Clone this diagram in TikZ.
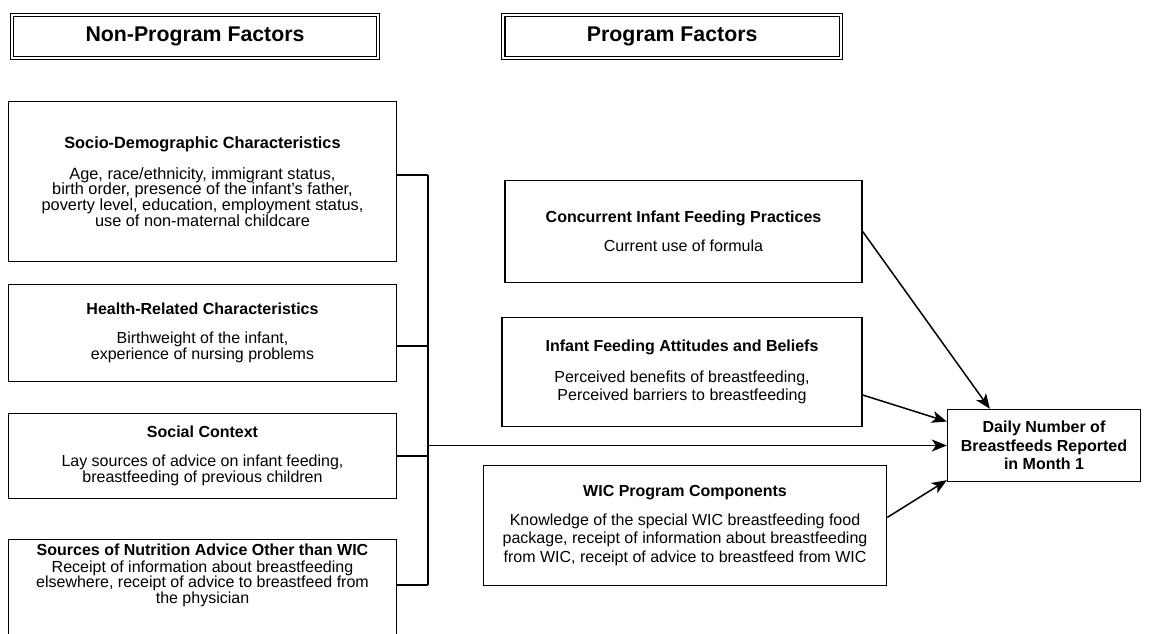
\documentclass[tikz,border=0pt]{standalone}
\usepackage{fontspec}
\setmainfont{Liberation Sans}
\usetikzlibrary{positioning, arrows.meta}

\tikzset{
  factor/.style={draw, line width=1.3pt, align=center, inner sep=0pt,
    font=\fontsize{16}{16.5}\selectfont},
  program/.style={factor, font=\fontsize{16}{18.4}\selectfont},
  header/.style={draw, double, line width=1.2pt, double distance=2pt,
    inner sep=0pt, minimum height=42.6pt, font=\fontsize{21.3}{25}\selectfont\bfseries},
  link/.style={line width=1.5pt},
}

\begin{document}
\begin{tikzpicture}[x=1pt, y=-1pt, >={Stealth[length=15pt, width=12pt, inset=4pt]}]
  \useasboundingbox (0,0) rectangle (1150,633);
  \clip (0,0) rectangle (1150,633);

  % column headers
  \node (nonprog) [header, minimum width=365.6pt] at (195,36.5) {Non-Program Factors};
  \node (prog) [header, minimum width=337.6pt, right=124.4pt of nonprog] {Program Factors};

  % non-program factors
  \node (socio) [factor, minimum width=388pt, minimum height=160pt,
    font=\fontsize{16.3}{15.7}\selectfont] at (202.5,181.5)
    {\textbf{Socio-Demographic Characteristics}\\[15pt]
     Age, race/ethnicity, immigrant status,\\
     birth order, presence of the infant’s father,\\
     poverty level, education, employment status,\\
     use of non-maternal childcare};
  \node (health) [factor, minimum width=388pt, minimum height=97pt] at (202.5,333)
    {\textbf{Health-Related Characteristics}\\[12pt]
     Birthweight of the infant,\\
     experience of nursing problems};
  \node (social) [factor, minimum width=388pt, minimum height=85pt] at (202.5,456)
    {\textbf{Social Context}\\[12pt]
     Lay sources of advice on infant feeding,\\
     breastfeeding of previous children};
  \node (sources) [factor, minimum width=388pt, anchor=north, inner ysep=5pt,
    font=\fontsize{16}{15.5}\selectfont] at (202.5,538.6)
    {\textbf{Sources of Nutrition Advice Other than WIC}\\[1pt]
     Receipt of information about breastfeeding\\
     elsewhere, receipt of advice to breastfeed from\\
     the physician\rule[-60pt]{0pt}{0pt}};

  % program factors
  \node (concurrent) [program, minimum width=357pt, minimum height=102pt] at (683.5,231.5)
    {\textbf{Concurrent Infant Feeding Practices}\\[11pt]
     Current use of formula};
  \node (attitudes) [program, minimum width=360pt, minimum height=109pt] at (682,372)
    {\textbf{Infant Feeding Attitudes and Beliefs}\\[12pt]
     Perceived benefits of breastfeeding,\\
     Perceived barriers to breastfeeding};
  \node (wic) [program, minimum width=403pt, minimum height=120pt] at (685,525.5)
    {\textbf{WIC Program Components}\\[10pt]
     Knowledge of the special WIC breastfeeding food\\
     package, receipt of information about breastfeeding\\
     from WIC, receipt of advice to breastfeed from WIC};

  % outcome
  \node (daily) [factor, minimum width=193pt, minimum height=72pt,
    font=\fontsize{16}{18.7}\selectfont\bfseries] at (1044,445.5)
    {Daily Number of\\ Breastfeeds Reported\\ in Month 1};

  % bus joining the non-program factors
  \coordinate (j1) at (428,175);
  \coordinate (j2) at (428,346);
  \coordinate (j3) at (428,456);
  \coordinate (j4) at (428,585);
  \draw[link] (socio.east |- j1) -- (j1);
  \draw[link] (health.east |- j2) -- (j2);
  \draw[link] (social.east |- j3) -- (j3);
  \draw[link] (sources.east |- j4) -- (j4);
  \draw[link] (j1) -- (j4);
  \draw[link, ->] (daily.west -| j1) -- (daily.west);

  \draw[link, ->] (concurrent.east) -- ([xshift=43pt]daily.north west);
  \draw[link, ->] ([yshift=-23pt]attitudes.east) -- ([yshift=24pt]daily.west);
  \draw[link, ->] ([yshift=8pt]wic.east) -- ([yshift=2pt]daily.south west);
\end{tikzpicture}
\end{document}
